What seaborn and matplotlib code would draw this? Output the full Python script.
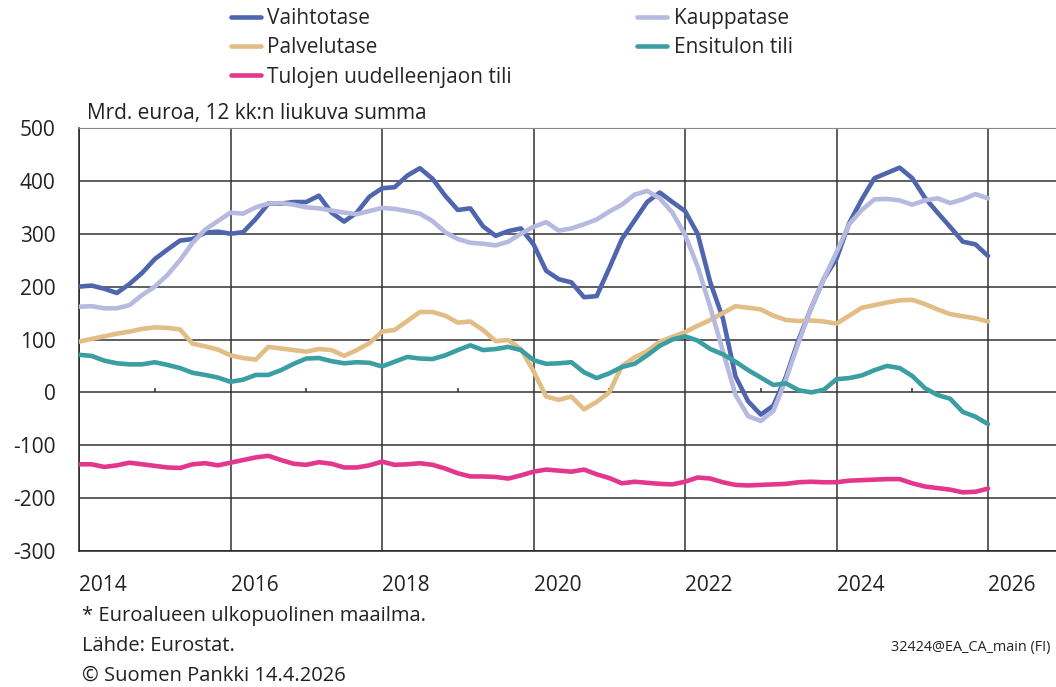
import numpy as np
import pandas as pd
import seaborn as sns
import matplotlib.pyplot as plt

plt.rcParams['axes.unicode_minus'] = False

# bimonthly readings, Jan 2014 .. Jan 2026 (Mrd. euroa, 12 kk:n liukuva summa)
dates = pd.date_range('2014-01-01', periods=73, freq='2MS')

vaihtotase = [200, 202, 196, 188, 205, 226,
              252, 270, 287, 290, 302, 304,
              300, 303, 328, 357, 357, 360,
              360, 372, 340, 323, 340, 370,
              386, 388, 410, 424, 404, 372,
              345, 348, 314, 296, 305, 310,
              280, 230, 214, 208, 180, 182,
              235, 290, 325, 360, 378, 360,
              343, 300, 208, 140, 30, -17,
              -42, -25, 30, 100, 160, 215,
              253, 320, 365, 405, 415, 425,
              405, 368, 340, 313, 285, 280,
              258]
kauppatase = [162, 163, 159, 159, 165, 184,
              200, 222, 250, 283, 308, 324,
              340, 338, 350, 357, 358, 355,
              350, 348, 344, 340, 337, 343,
              349, 347, 343, 338, 324, 303,
              290, 283, 281, 278, 285, 300,
              313, 322, 306, 310, 318, 327,
              342, 355, 374, 381, 367, 340,
              298, 238, 161, 78, -5, -45,
              -54, -35, 25, 95, 160, 215,
              265, 318, 345, 365, 366, 363,
              355, 363, 367, 358, 365, 375,
              367]
palvelutase = [96, 101, 106, 111, 115, 120,
               123, 122, 119, 92, 87, 81,
               70, 65, 62, 86, 83, 80,
               77, 82, 80, 69, 80, 93,
               115, 118, 135, 152, 152, 145,
               132, 134, 118, 97, 99, 82,
               40, -8, -14, -8, -32, -18,
               0, 50, 66, 78, 96, 105,
               114, 126, 137, 150, 163, 160,
               157, 145, 137, 135, 136, 134,
               130, 145, 160, 165, 170, 174,
               175, 167, 157, 148, 144, 140,
               134]
ensitulon = [71, 69, 60, 55, 53, 53,
             57, 52, 46, 37, 33, 28,
             20, 24, 33, 33, 42, 54,
             64, 65, 59, 55, 57, 56,
             49, 58, 67, 64, 63, 70,
             80, 89, 80, 82, 86, 80,
             61, 54, 55, 57, 38, 27,
             36, 48, 54, 70, 88, 100,
             106, 98, 82, 72, 58, 42,
             28, 14, 17, 4, 0, 5,
             25, 27, 32, 42, 50, 46,
             31, 8, -5, -12, -37, -46,
             -60]
tulojen = [-136, -136, -141, -138, -133, -136,
           -139, -142, -143, -136, -134, -138,
           -133, -128, -123, -120, -128, -135,
           -137, -132, -135, -142, -142, -138,
           -131, -137, -136, -134, -137, -144,
           -153, -159, -159, -160, -163, -157,
           -150, -146, -148, -150, -146, -155,
           -162, -172, -169, -171, -173, -174,
           -169, -161, -163, -170, -175, -176,
           -175, -174, -173, -170, -169, -170,
           -170, -167, -166, -165, -164, -164,
           -172, -178, -181, -184, -189, -188,
           -182]

names = ['Vaihtotase', 'Palvelutase', 'Tulojen uudelleenjaon tili',
         'Kauppatase', 'Ensitulon tili']
colors = ['#4f66ae', '#e2bd85', '#e2378c', '#b6b9e0', '#3a9ea2']
series = [vaihtotase, palvelutase, tulojen, kauppatase, ensitulon]

sns.set_style('white')
plt.rcParams['font.family'] = ['Open Sans', 'DejaVu Sans']

x = dates.year + (dates.month - 1) / 12

fig = plt.figure(figsize=(10.56, 6.87), dpi=100)
ax = fig.add_axes([79 / 1056, 1 - 551 / 687, (1056 - 79) / 1056, 423 / 687])

# draw lightest lines first so the dark ones sit on top
order = [3, 1, 4, 2, 0]
for i in order:
    sns.lineplot(x=x, y=series[i], ax=ax, color=colors[i], lw=3.3,
                 label=names[i], zorder=3 + i * 0.1)

ax.set_xlim(2014, 2014 + (1056 - 78.4) / 75.8)
ax.set_ylim(-300, 500)
ax.set_yticks(range(-300, 501, 100))
ax.set_xticks(range(2014, 2027, 2))
ax.grid(True, color='#333333', lw=1.1)
ax.vlines(range(2015, 2026, 2), 0, 9, color='#333333', lw=1.1, zorder=2)

ax.tick_params(axis='both', length=0, labelsize=15, colors='#222222')
ax.tick_params(axis='y', pad=17)
ax.tick_params(axis='x', pad=17)
for lab in ax.get_xticklabels():
    lab.set_ha('left')

for s in ['left', 'bottom']:
    ax.spines[s].set_color('#222222')
    ax.spines[s].set_linewidth(1.1)
ax.spines['top'].set_color('#888888')
ax.spines['right'].set_visible(False)
ax.set_xlabel('')
ax.set_ylabel('')

handles, labels = ax.get_legend_handles_labels()
hmap = dict(zip(labels, handles))
ax.legend_.remove()
fig.legend([hmap[n] for n in names], names, ncol=2, loc='upper left',
           bbox_to_anchor=(231 / 1056, 1 - 8 / 687), frameon=False, fontsize=15,
           handlelength=1.45, handletextpad=0.3, columnspacing=6.0,
           labelspacing=0.4, borderpad=0, borderaxespad=0)

txt = dict(fontsize=15, va='center', color='#222222')
fig.text(87 / 1056, 1 - 114 / 687, 'Mrd. euroa, 12 kk:n liukuva summa', **txt)

foot = dict(fontsize=14.5, va='baseline', color='#222222')
fig.text(82 / 1056, 1 - 621 / 687, '* Euroalueen ulkopuolinen maailma.', **foot)
fig.text(82 / 1056, 1 - 651 / 687, 'Lähde: Eurostat.', **foot)
fig.text(82 / 1056, 1 - 681 / 687, '© Suomen Pankki 14.4.2026', **foot)
fig.text(1050 / 1056, 1 - 648 / 687, '32424@EA_CA_main (FI)',
         fontsize=10.4, va='center', ha='right', color='#222222')

fig.savefig('out.png', dpi=100)
